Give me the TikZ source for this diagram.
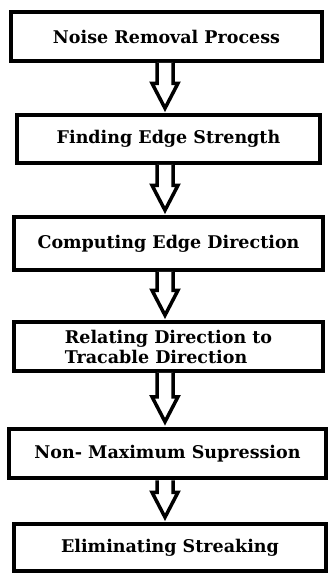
\documentclass[tikz,border=0pt]{standalone}
\usepackage{fontspec}
\setmainfont{DejaVu Serif}
\usetikzlibrary{calc}

\begin{document}
\begin{tikzpicture}[x=1pt,y=-1pt]
    \tikzset{box/.style    = {draw,
        line width      = 3.5pt,
        inner sep       = 0pt,
        align           = center,
        font            = \fontsize{17.5}{20}\selectfont\bfseries
        },
        hollow/.style   = {draw,
        fill            = white,
        line width      = 3.5pt,
        line join       = miter
        }}

    \useasboundingbox (0,0) rectangle (329,574);
    \coordinate (axis) at (165,0);

    % Draw the process steps.
    \node[box, minimum width=311pt, minimum height=49pt] (noise)     at (166.5,36.5) {Noise Removal Process};
    \node[box, minimum width=303pt, minimum height=48pt] (strength)  at (168.5,139)  {Finding Edge Strength};
    \node[box, minimum width=309pt, minimum height=53pt] (direction) at (168.5,243.5) {Computing Edge Direction};
    \node[box, minimum width=309pt, minimum height=49pt, align=left] (relate) at (168.5,346.5) {Relating Direction to\\Tracable Direction};
    \node[box, minimum width=317pt, minimum height=49pt, line width=4.5pt] (nms) at (167.5,453.5) {Non- Maximum Supression};
    \node[box, minimum width=312pt, minimum height=47pt] (streak)    at (170,547.5) {Eliminating Streaking};

    % Draw the hollow arrows between the steps.
    \foreach \a/\b in {noise/strength, strength/direction, direction/relate, relate/nms, nms/streak}{
        \coordinate (tip) at ($(\b.north -| axis)+(0,-5)$);
        \coordinate (tail) at (\a.south -| axis);
        \draw[hollow] ($(tail)+(-8,0)$) -- ($(tip)+(-8,-25)$) -- ($(tip)+(-13,-25)$) -- (tip)
            -- ($(tip)+(13,-25)$) -- ($(tip)+(8,-25)$) -- ($(tail)+(8,0)$);
    }
\end{tikzpicture}
\end{document}
